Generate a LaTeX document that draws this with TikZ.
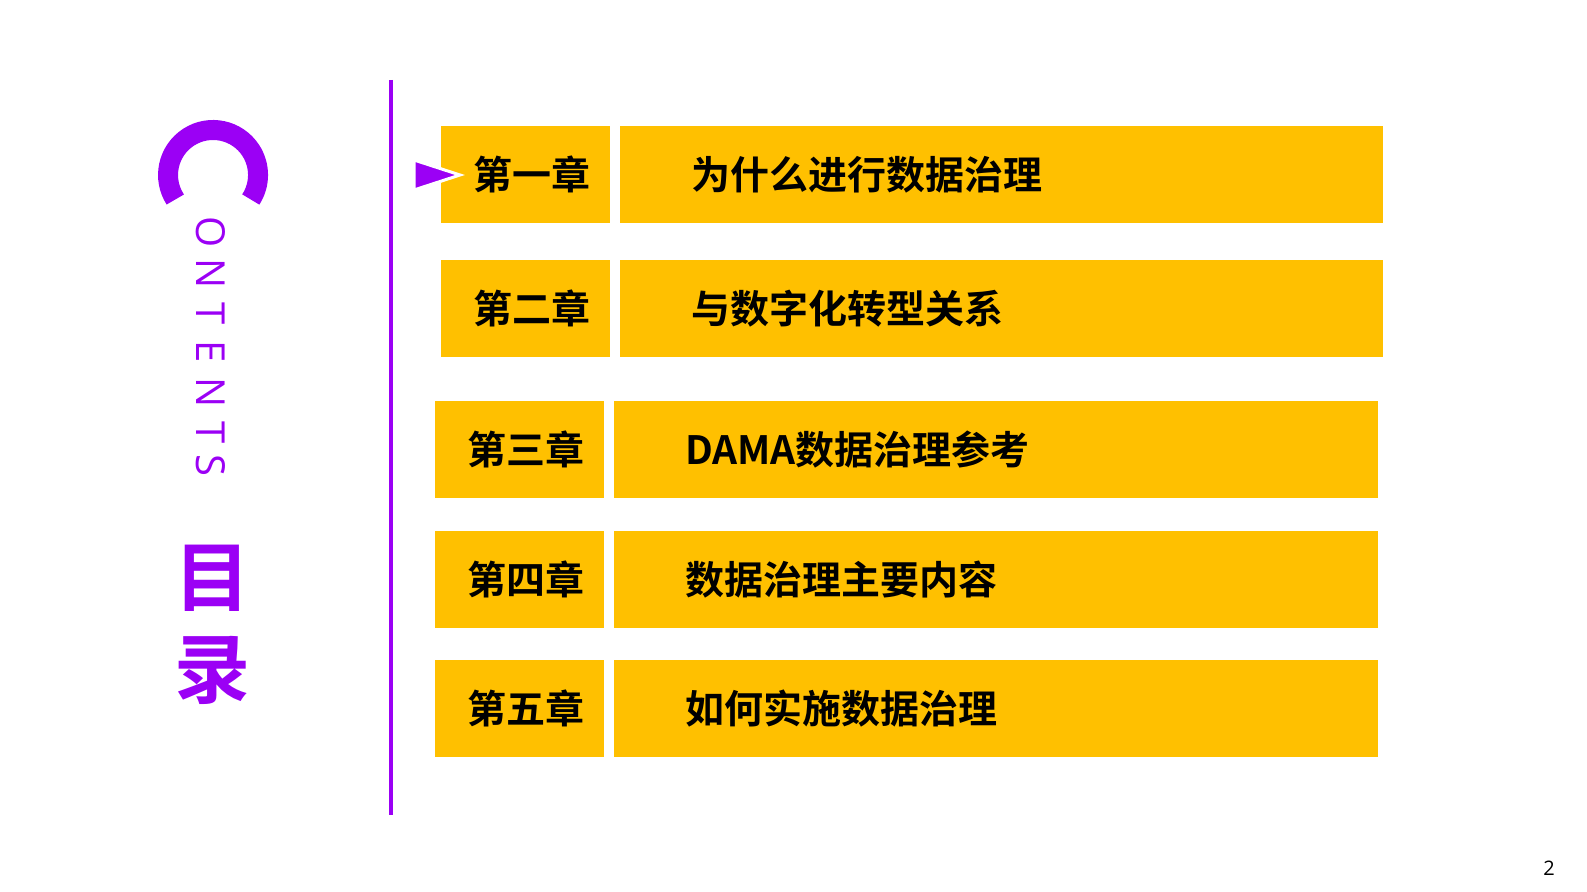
\documentclass[tikz,border=0pt]{standalone}
\usepackage{fontspec}
\setmainfont{Open Sans}
\newfontfamily\cjk{Noto Sans CJK SC}
\newfontfamily\cjkb{Noto Sans CJK SC Bold}
\definecolor{gold}{HTML}{FFC000}
\definecolor{vio}{HTML}{9B00F5}
\begin{document}
\begin{tikzpicture}[x=0.5pt,y=-0.5pt,
  chap/.style={fill=gold,draw=none},
  ctext/.style={font=\cjkb\fontsize{19.5pt}{19.5pt}\selectfont,text=black},
  letter/.style={text=vio,font=\fontsize{20pt}{20pt}\selectfont,rotate=-90}]
\draw[vio,line width=2pt] (391,80) -- (391,815);
% big C
\draw[vio,line width=10pt] (175.3,199.5) arc[start angle=213,end angle=-33,x radius=45,y radius=-45];
\foreach \l/\y [count=\i] in {O/232,N/274,T/314,E/352,N/393,T/433,S/465}
  \node[letter] (L\i) at (211,\y) {\l};
\node[text=vio,font=\cjkb\fontsize{38pt}{38pt}\selectfont] (mu) at (212,578) {目};
\node[text=vio,font=\cjkb\fontsize{38pt}{38pt}\selectfont] (lu) at (212,670) {录};
% rows
\foreach \n/\xa/\xb/\xc/\xd/\ya/\yb/\c/\t in {
 1/441/610/620/1383/126/223/第一章/为什么进行数据治理,
 2/441/610/620/1383/260/357/第二章/与数字化转型关系,
 3/435/604/614/1378/401/498/第三章/DAMA数据治理参考,
 4/435/604/614/1378/531/628/第四章/数据治理主要内容,
 5/435/604/614/1378/660/757/第五章/如何实施数据治理}{
  \fill[chap] (\xa,\ya) rectangle (\xb,\yb);
  \fill[chap] (\xc,\ya) rectangle (\xd,\yb);
  \node[ctext] (c\n) at ({(\xa+\xb)/2+6},{(\ya+\yb)/2}) {\c};
  \node[ctext,anchor=west] (t\n) at (\xc+64,{(\ya+\yb)/2}) {\t};
}
\fill[vio,draw=white,line width=1.5pt] (414,160) -- (460,175) -- (414,190) -- cycle;
\node[font=\fontsize{10pt}{10pt}\selectfont] (pg) at (1549,868) {2};
\pgfresetboundingbox
\useasboundingbox (0,0) rectangle (1587,892);
\end{tikzpicture}
\end{document}
